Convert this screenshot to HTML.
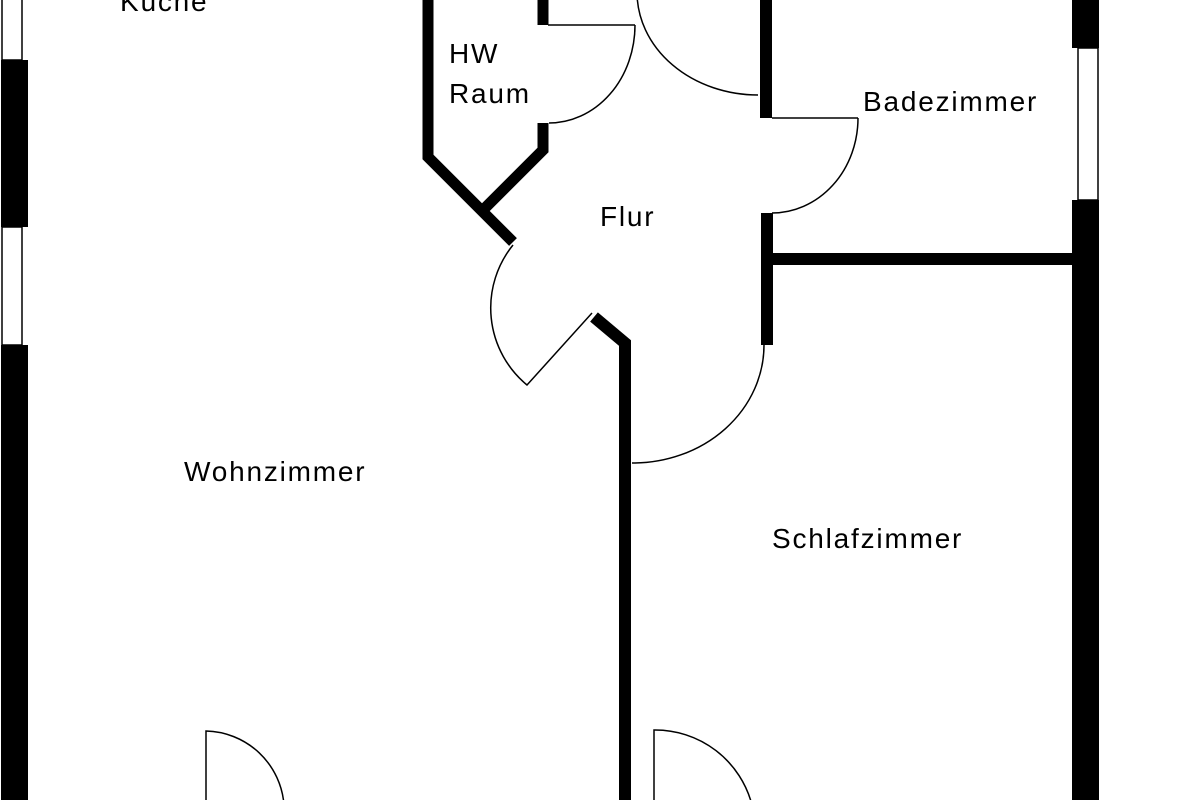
<!DOCTYPE html>
<html><head><meta charset="utf-8"><style>
html,body{margin:0;padding:0;background:#fff;width:1200px;height:800px;overflow:hidden}
text{font-family:"Liberation Sans",sans-serif;font-size:28px;letter-spacing:1.8px;fill:#000}
</style></head><body>
<svg width="1200" height="800" viewBox="0 0 1200 800" xmlns="http://www.w3.org/2000/svg">
<rect x="1" y="60" width="27" height="167" fill="#000"/>
<rect x="1" y="345" width="27" height="460" fill="#000"/>
<rect x="2" y="-5" width="20" height="65" fill="none" stroke="#000" stroke-width="1.5"/>
<rect x="2" y="227" width="20" height="118" fill="none" stroke="#000" stroke-width="1.5"/>
<rect x="1072" y="-5" width="27" height="53" fill="#000"/>
<rect x="1072" y="200" width="27" height="605" fill="#000"/>
<rect x="1078" y="48" width="20" height="152" fill="none" stroke="#000" stroke-width="1.5"/>
<polyline points="428,-5 428,157 513,242" fill="none" stroke="#000" stroke-width="11"/>
<polyline points="543,-5 543,25" fill="none" stroke="#000" stroke-width="11"/>
<polyline points="543,123 543,150 485,208" fill="none" stroke="#000" stroke-width="11"/>
<line x1="548" y1="25" x2="635" y2="25" stroke="#000" stroke-width="1.5"/>
<path d="M635,25 A86 98 0 0 1 549,123" fill="none" stroke="#000" stroke-width="1.5"/>
<path d="M637,-8 A121 103 0 0 0 758,95" fill="none" stroke="#000" stroke-width="1.5"/>
<rect x="760" y="-5" width="12" height="123" fill="#000"/>
<line x1="772" y1="118" x2="858" y2="118" stroke="#000" stroke-width="1.5"/>
<path d="M858,118 A86 95 0 0 1 772,213" fill="none" stroke="#000" stroke-width="1.5"/>
<rect x="761" y="213" width="12" height="132" fill="#000"/>
<rect x="773" y="253" width="300" height="12" fill="#000"/>
<path d="M764,345 A131 118 0 0 1 632,463" fill="none" stroke="#000" stroke-width="1.5"/>
<path d="M513,245 A100 100 0 0 0 527,385 L592,313" fill="none" stroke="#000" stroke-width="1.5"/>
<polyline points="594,317 625,343 625,805" fill="none" stroke="#000" stroke-width="12"/>
<path d="M206,805 L206,731 A80 80 0 0 1 284,805" fill="none" stroke="#000" stroke-width="1.5"/>
<path d="M654,805 L654,730 A100 100 0 0 1 752,805" fill="none" stroke="#000" stroke-width="1.5"/>
<text x="120" y="11">Küche</text>
<text x="449" y="63">HW</text>
<text x="449" y="103">Raum</text>
<text x="863" y="111">Badezimmer</text>
<text x="600" y="226">Flur</text>
<text x="184" y="481">Wohnzimmer</text>
<text x="772" y="548">Schlafzimmer</text>
</svg>
</body></html>
